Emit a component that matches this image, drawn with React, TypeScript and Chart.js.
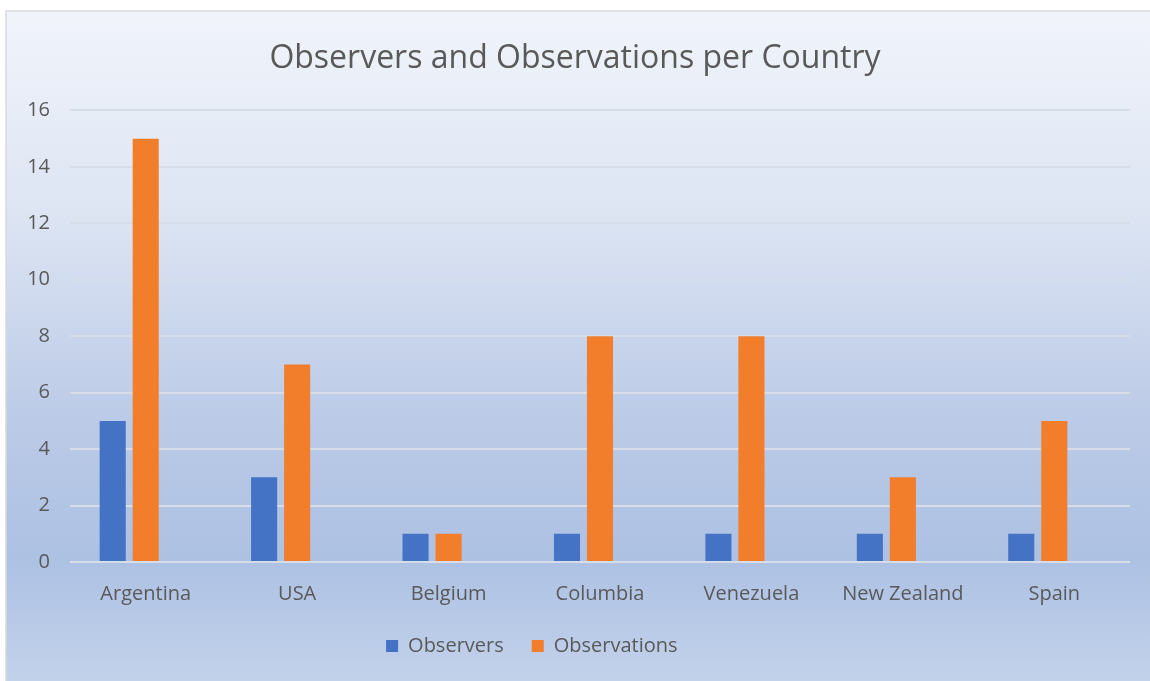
import React, { useEffect, useRef } from "react";
import { Chart, registerables } from "chart.js";

Chart.register(...registerables);

const countries = ["Argentina", "USA", "Belgium", "Columbia", "Venezuela", "New Zealand", "Spain"];
const observers = [5, 3, 1, 1, 1, 1, 1];
const observations = [15, 7, 1, 8, 8, 3, 5];
const emptySeries = [null, null, null, null, null, null, null];
const yTicks = [0, 2, 4, 6, 8, 10, 12, 14, 16];

const FONT = "'Open Sans', 'DejaVu Sans', sans-serif";
const TEXT = "#595959";

const backgroundPlugin = {
  id: "bgGradient",
  beforeDraw(chart: any) {
    const { ctx, width, height } = chart;
    ctx.save();
    ctx.fillStyle = "#ffffff";
    ctx.fillRect(0, 0, width, height);
    const g = ctx.createLinearGradient(0, 11, 0, height);
    g.addColorStop(0, "#f1f4fb");
    g.addColorStop(0.3, "#dde5f3");
    g.addColorStop(0.6, "#bccbe7");
    g.addColorStop(0.82, "#adc1e3");
    g.addColorStop(1, "#c3d2eb");
    ctx.fillStyle = g;
    ctx.fillRect(6, 11, width - 6, height - 11);
    ctx.strokeStyle = "#d6d9de";
    ctx.lineWidth = 1.5;
    ctx.beginPath();
    ctx.moveTo(6, height);
    ctx.lineTo(6, 11);
    ctx.lineTo(width, 11);
    ctx.stroke();
    ctx.restore();
  },
};

export default function App() {
  const ref = useRef<HTMLCanvasElement>(null);
  useEffect(() => {
    document.body.style.margin = "0";
    const chart = new Chart(ref.current!, {
      type: "bar",
      data: {
        labels: countries,
        datasets: [
          { label: "Observers", data: observers, backgroundColor: "#4472c4" },
          { label: "Observations", data: observations, backgroundColor: "#f27e2c" },
          { label: "       ", data: emptySeries as any, backgroundColor: "rgba(0,0,0,0)", borderWidth: 0 },
        ],
      },
      options: {
        responsive: false,
        animation: false,
        maintainAspectRatio: false,
        datasets: { bar: { categoryPercentage: 0.654, barPercentage: 0.79 } },
        layout: { padding: { left: 0, right: 0, top: 0, bottom: 15 } },
        plugins: {
          title: {
            display: true,
            text: "Observers and Observations per Country",
            color: TEXT,
            font: { family: FONT, size: 32, weight: "normal" },
            padding: { top: 40, bottom: 32 },
          },
          legend: {
            position: "bottom",
            labels: {
              color: TEXT,
              font: { family: FONT, size: 20 },
              boxWidth: 12,
              boxHeight: 12,
              padding: 28,
            },
          },
          tooltip: { enabled: false },
        },
        scales: {
          x: {
            grid: { display: false },
            border: { display: false },
            ticks: { color: TEXT, font: { family: FONT, size: 20 }, padding: 12, maxRotation: 0 },
            afterFit: (s: any) => {
              s.height = 46;
            },
          },
          y: {
            min: 0,
            max: 16,
            afterBuildTicks: (s: any) => {
              s.ticks = yTicks.map((v) => ({ value: v }));
            },
            grid: { color: "#d6dde9", lineWidth: 2, drawTicks: false },
            border: { display: false },
            ticks: { color: TEXT, font: { family: FONT, size: 20 }, padding: 20 },
            afterFit: (s: any) => {
              s.width = 70;
            },
          },
          yRight: {
            type: "linear",
            position: "right",
            grid: { display: false },
            border: { display: false },
            ticks: { display: false },
            afterFit: (s: any) => {
              s.width = 20;
            },
          },
        },
      },
      plugins: [backgroundPlugin],
    });
    return () => chart.destroy();
  }, []);
  return (
    <div style={{ width: 1150, height: 681 }}>
      <canvas ref={ref} width={1150} height={681} style={{ display: "block" }} />
    </div>
  );
}
